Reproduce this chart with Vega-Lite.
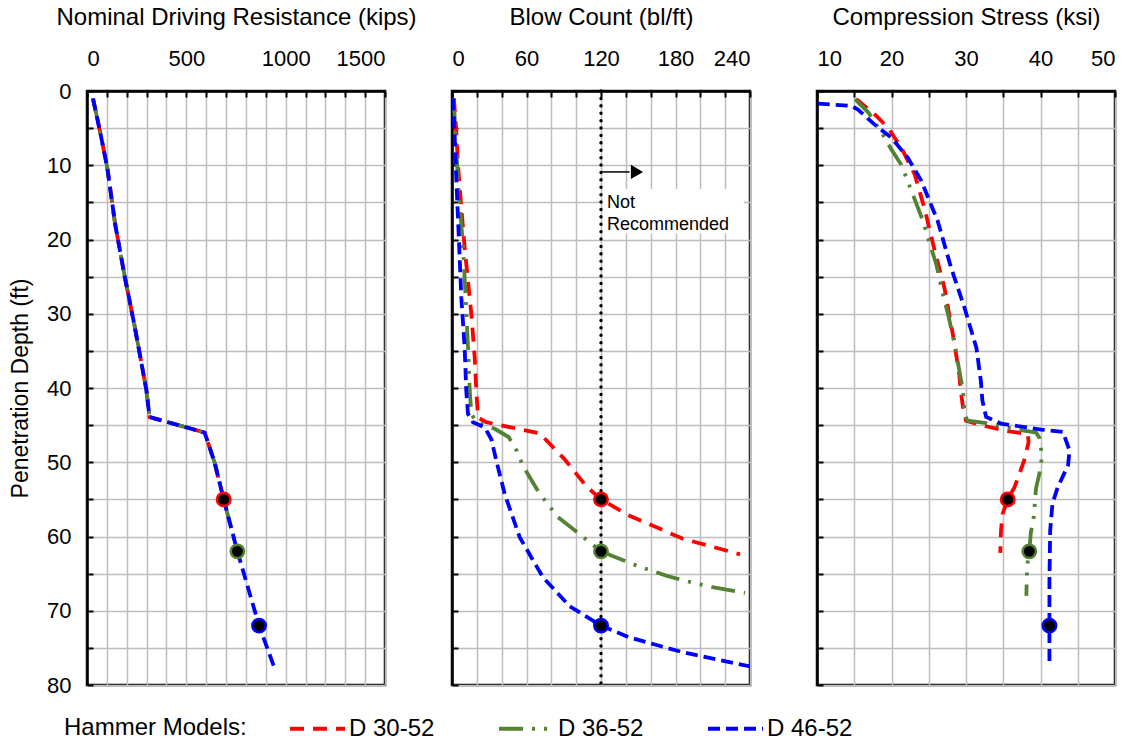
{
  "$schema": "https://vega.github.io/schema/vega-lite/v6.json",
  "background": "white",
  "padding": {"left": 8, "top": 3, "right": 5, "bottom": 5},
  "bounds": "flush",
  "spacing": 67,
  "datasets": {
    "lines": [
      {"p":1,"h":"D 30-52","d":1,"v":30},{"p":1,"h":"D 30-52","d":5.25,"v":64},{"p":1,"h":"D 30-52","d":10.3,"v":102},{"p":1,"h":"D 30-52","d":18,"v":142},{"p":1,"h":"D 30-52","d":25,"v":190},{"p":1,"h":"D 30-52","d":31.7,"v":240},{"p":1,"h":"D 30-52","d":40.3,"v":299},{"p":1,"h":"D 30-52","d":43.9,"v":315},{"p":1,"h":"D 30-52","d":46,"v":592},{"p":1,"h":"D 30-52","d":50,"v":642},{"p":1,"h":"D 30-52","d":55,"v":688},
      {"p":1,"h":"D 36-52","d":1,"v":30},{"p":1,"h":"D 36-52","d":5.25,"v":64},{"p":1,"h":"D 36-52","d":10.3,"v":102},{"p":1,"h":"D 36-52","d":18,"v":142},{"p":1,"h":"D 36-52","d":25,"v":190},{"p":1,"h":"D 36-52","d":31.7,"v":240},{"p":1,"h":"D 36-52","d":40.3,"v":299},{"p":1,"h":"D 36-52","d":43.9,"v":315},{"p":1,"h":"D 36-52","d":46,"v":592},{"p":1,"h":"D 36-52","d":50,"v":642},{"p":1,"h":"D 36-52","d":55,"v":688},{"p":1,"h":"D 36-52","d":62,"v":757},
      {"p":1,"h":"D 46-52","d":1,"v":30},{"p":1,"h":"D 46-52","d":5.25,"v":64},{"p":1,"h":"D 46-52","d":10.3,"v":102},{"p":1,"h":"D 46-52","d":18,"v":142},{"p":1,"h":"D 46-52","d":25,"v":190},{"p":1,"h":"D 46-52","d":31.7,"v":240},{"p":1,"h":"D 46-52","d":40.3,"v":299},{"p":1,"h":"D 46-52","d":43.9,"v":315},{"p":1,"h":"D 46-52","d":46,"v":592},{"p":1,"h":"D 46-52","d":50,"v":642},{"p":1,"h":"D 46-52","d":55,"v":688},{"p":1,"h":"D 46-52","d":62,"v":757},{"p":1,"h":"D 46-52","d":72,"v":866},{"p":1,"h":"D 46-52","d":77.5,"v":941},

      {"p":2,"h":"D 30-52","d":1,"v":1.5},{"p":2,"h":"D 30-52","d":5.4,"v":3.5},{"p":2,"h":"D 30-52","d":9.9,"v":4.8},{"p":2,"h":"D 30-52","d":15.7,"v":7.5},{"p":2,"h":"D 30-52","d":21.1,"v":10.2},{"p":2,"h":"D 30-52","d":25.6,"v":12.9},{"p":2,"h":"D 30-52","d":30.1,"v":15.6},{"p":2,"h":"D 30-52","d":35.9,"v":18.3},{"p":2,"h":"D 30-52","d":40.4,"v":19.6},{"p":2,"h":"D 30-52","d":44,"v":21},{"p":2,"h":"D 30-52","d":44.6,"v":27.6},{"p":2,"h":"D 30-52","d":45.5,"v":53},{"p":2,"h":"D 30-52","d":46.1,"v":70.6},{"p":2,"h":"D 30-52","d":49.6,"v":90.7},{"p":2,"h":"D 30-52","d":53.2,"v":108},{"p":2,"h":"D 30-52","d":55,"v":120},{"p":2,"h":"D 30-52","d":57.2,"v":143},{"p":2,"h":"D 30-52","d":60.3,"v":186},{"p":2,"h":"D 30-52","d":62.4,"v":232},
      {"p":2,"h":"D 36-52","d":1,"v":1},{"p":2,"h":"D 36-52","d":3.1,"v":2},{"p":2,"h":"D 36-52","d":12.1,"v":4.8},{"p":2,"h":"D 36-52","d":21.1,"v":8.9},{"p":2,"h":"D 36-52","d":27.8,"v":11},{"p":2,"h":"D 36-52","d":34.6,"v":12.9},{"p":2,"h":"D 36-52","d":40.4,"v":14.3},{"p":2,"h":"D 36-52","d":43.5,"v":15.6},{"p":2,"h":"D 36-52","d":44.6,"v":19.6},{"p":2,"h":"D 36-52","d":45.5,"v":34.4},{"p":2,"h":"D 36-52","d":46.6,"v":45.6},{"p":2,"h":"D 36-52","d":48.5,"v":52.3},{"p":2,"h":"D 36-52","d":50.5,"v":57.2},{"p":2,"h":"D 36-52","d":53.9,"v":69.3},{"p":2,"h":"D 36-52","d":55.7,"v":77.4},{"p":2,"h":"D 36-52","d":57.4,"v":85.4},{"p":2,"h":"D 36-52","d":58.8,"v":96},{"p":2,"h":"D 36-52","d":61.3,"v":114.9},{"p":2,"h":"D 36-52","d":62,"v":120},{"p":2,"h":"D 36-52","d":63.2,"v":137.9},{"p":2,"h":"D 36-52","d":64,"v":150},{"p":2,"h":"D 36-52","d":65.3,"v":173},{"p":2,"h":"D 36-52","d":65.9,"v":186},{"p":2,"h":"D 36-52","d":66.4,"v":198.6},{"p":2,"h":"D 36-52","d":66.9,"v":212},{"p":2,"h":"D 36-52","d":67.6,"v":236},
      {"p":2,"h":"D 46-52","d":1,"v":1},{"p":2,"h":"D 46-52","d":5.3,"v":2},{"p":2,"h":"D 46-52","d":12,"v":3.5},{"p":2,"h":"D 46-52","d":20.1,"v":5.6},{"p":2,"h":"D 46-52","d":27.8,"v":7.5},{"p":2,"h":"D 46-52","d":34.6,"v":10.2},{"p":2,"h":"D 46-52","d":40.4,"v":11.5},{"p":2,"h":"D 46-52","d":43.5,"v":12.9},{"p":2,"h":"D 46-52","d":44.6,"v":16.9},{"p":2,"h":"D 46-52","d":45.3,"v":26.3},{"p":2,"h":"D 46-52","d":46.9,"v":31.7},{"p":2,"h":"D 46-52","d":49.8,"v":35.7},{"p":2,"h":"D 46-52","d":54.3,"v":42.5},{"p":2,"h":"D 46-52","d":60.1,"v":54.5},{"p":2,"h":"D 46-52","d":65.5,"v":73.3},{"p":2,"h":"D 46-52","d":69.4,"v":94.8},{"p":2,"h":"D 46-52","d":72,"v":120},{"p":2,"h":"D 46-52","d":73.6,"v":143},{"p":2,"h":"D 46-52","d":75.6,"v":186},{"p":2,"h":"D 46-52","d":77.5,"v":240},

      {"p":3,"h":"D 30-52","d":1.1,"v":15.3},{"p":3,"h":"D 30-52","d":3.1,"v":17.7},{"p":3,"h":"D 30-52","d":4.9,"v":19.5},{"p":3,"h":"D 30-52","d":7.6,"v":21.3},{"p":3,"h":"D 30-52","d":11.2,"v":23.1},{"p":3,"h":"D 30-52","d":15.7,"v":24.4},{"p":3,"h":"D 30-52","d":21.5,"v":25.8},{"p":3,"h":"D 30-52","d":26.5,"v":27.1},{"p":3,"h":"D 30-52","d":33.7,"v":28.4},{"p":3,"h":"D 30-52","d":38.2,"v":29.1},{"p":3,"h":"D 30-52","d":40.4,"v":29.3},{"p":3,"h":"D 30-52","d":42.6,"v":29.6},{"p":3,"h":"D 30-52","d":44.4,"v":30},{"p":3,"h":"D 30-52","d":45,"v":32},{"p":3,"h":"D 30-52","d":45.8,"v":35.6},{"p":3,"h":"D 30-52","d":46.2,"v":38.3},{"p":3,"h":"D 30-52","d":47.3,"v":38.4},{"p":3,"h":"D 30-52","d":49.8,"v":37.8},{"p":3,"h":"D 30-52","d":53.4,"v":36.5},{"p":3,"h":"D 30-52","d":55,"v":35.6},{"p":3,"h":"D 30-52","d":57,"v":34.9},{"p":3,"h":"D 30-52","d":59.2,"v":34.7},{"p":3,"h":"D 30-52","d":62.2,"v":34.6},
      {"p":3,"h":"D 36-52","d":1.1,"v":15.1},{"p":3,"h":"D 36-52","d":2.9,"v":16.9},{"p":3,"h":"D 36-52","d":6,"v":18.9},{"p":3,"h":"D 36-52","d":7.9,"v":20},{"p":3,"h":"D 36-52","d":9.9,"v":21.3},{"p":3,"h":"D 36-52","d":13.5,"v":22.7},{"p":3,"h":"D 36-52","d":17.7,"v":24.3},{"p":3,"h":"D 36-52","d":19.8,"v":24.9},{"p":3,"h":"D 36-52","d":23.3,"v":26},{"p":3,"h":"D 36-52","d":27.8,"v":27},{"p":3,"h":"D 36-52","d":30.1,"v":27.6},{"p":3,"h":"D 36-52","d":33.7,"v":28.4},{"p":3,"h":"D 36-52","d":38.2,"v":29.2},{"p":3,"h":"D 36-52","d":40.4,"v":29.6},{"p":3,"h":"D 36-52","d":43.5,"v":29.8},{"p":3,"h":"D 36-52","d":44.4,"v":30.2},{"p":3,"h":"D 36-52","d":44.7,"v":32.5},{"p":3,"h":"D 36-52","d":45.6,"v":36.9},{"p":3,"h":"D 36-52","d":46,"v":39.4},{"p":3,"h":"D 36-52","d":46.8,"v":39.9},{"p":3,"h":"D 36-52","d":49.2,"v":40.2},{"p":3,"h":"D 36-52","d":51.3,"v":39.9},{"p":3,"h":"D 36-52","d":53.5,"v":39.4},{"p":3,"h":"D 36-52","d":57.3,"v":39.1},{"p":3,"h":"D 36-52","d":59.5,"v":38.7},{"p":3,"h":"D 36-52","d":62,"v":38.5},{"p":3,"h":"D 36-52","d":64,"v":38.2},{"p":3,"h":"D 36-52","d":68,"v":38.1},
      {"p":3,"h":"D 46-52","d":1.7,"v":10.1},{"p":3,"h":"D 46-52","d":2,"v":14.6},{"p":3,"h":"D 46-52","d":2.5,"v":15.5},{"p":3,"h":"D 46-52","d":4.5,"v":17.7},{"p":3,"h":"D 46-52","d":6.3,"v":20},{"p":3,"h":"D 46-52","d":9,"v":22.2},{"p":3,"h":"D 46-52","d":12.1,"v":24},{"p":3,"h":"D 46-52","d":17.5,"v":26.2},{"p":3,"h":"D 46-52","d":23.8,"v":28},{"p":3,"h":"D 46-52","d":29.2,"v":29.8},{"p":3,"h":"D 46-52","d":34.6,"v":31.4},{"p":3,"h":"D 46-52","d":39.1,"v":32},{"p":3,"h":"D 46-52","d":41.7,"v":32.2},{"p":3,"h":"D 46-52","d":43.9,"v":32.7},{"p":3,"h":"D 46-52","d":44.8,"v":34.7},{"p":3,"h":"D 46-52","d":45.6,"v":40.1},{"p":3,"h":"D 46-52","d":45.9,"v":43},{"p":3,"h":"D 46-52","d":48.4,"v":43.9},{"p":3,"h":"D 46-52","d":50.4,"v":43.7},{"p":3,"h":"D 46-52","d":53.4,"v":42.3},{"p":3,"h":"D 46-52","d":55.6,"v":41.6},{"p":3,"h":"D 46-52","d":59.2,"v":41.3},{"p":3,"h":"D 46-52","d":65.9,"v":41.2},{"p":3,"h":"D 46-52","d":72,"v":41.2},{"p":3,"h":"D 46-52","d":77.3,"v":41.2}
    ],
    "pts": [
      {"p":1,"h":"D 30-52","d":55,"v":688},{"p":1,"h":"D 36-52","d":62,"v":757},{"p":1,"h":"D 46-52","d":72,"v":866},
      {"p":2,"h":"D 30-52","d":55,"v":120},{"p":2,"h":"D 36-52","d":62,"v":120},{"p":2,"h":"D 46-52","d":72,"v":120},
      {"p":3,"h":"D 30-52","d":55,"v":35.6},{"p":3,"h":"D 36-52","d":62,"v":38.5},{"p":3,"h":"D 46-52","d":72,"v":41.2}
    ],
    "box": [{"v":121.6,"v2":235,"d":13.2,"d2":19.2}],
    "limit": [{"v":120}],
    "arrow": [{"v":120,"v2":143,"d":10.9}],
    "head": [{"v":149,"d":10.9}],
    "note": [{"t":"Not","v":124.8,"d":15.8},{"t":"Recommended","v":124.8,"d":18.7}]
  },
  "hconcat": [
    {
      "width": 298, "height": 594,
      "layer": [
        {
          "data": {"name": "lines"},
          "transform": [{"filter": "datum.p == 1"}],
          "mark": {"type": "line", "strokeCap": "butt", "clip": true},
          "encoding": {
            "x": {"field": "v", "type": "quantitative", "scale": {"domain": [0, 1500], "nice": false, "zero": false},
                  "axis": {"orient": "top", "title": "Nominal Driving Resistance (kips)", "tickCount": 40, "format": "d",
                           "values": [0,100,200,300,400,500,600,700,800,900,1000,1100,1200,1300,1400,1500],
                           "labelExpr": "datum.value % 500 === 0 ? datum.label : ''"}},
            "y": {"field": "d", "type": "quantitative", "scale": {"domain": [0, 80], "reverse": true, "nice": false, "zero": false},
                  "axis": {"title": "Penetration Depth (ft)", "tickCount": 40, "format": "d",
                           "values": [0,5,10,15,20,25,30,35,40,45,50,55,60,65,70,75,80],
                           "labelExpr": "datum.value % 10 === 0 ? datum.label : ''"}},
            "order": {"field": "d", "type": "quantitative"},
            "color": {"field": "h", "type": "nominal", "title": "Hammer Models:", "scale": {"domain": ["D 30-52","D 36-52","D 46-52"], "range": ["#ff0000","#548235","#0000ff"]},
                      "legend": {"orient": "none", "legendX": -23, "legendY": 608, "direction": "horizontal", "titleOrient": "left", "titleAnchor": "middle", "titleBaseline": "line-top", "titleLineHeight": 16}},
            "strokeDash": {"field": "h", "type": "nominal", "title": "Hammer Models:", "scale": {"domain": ["D 30-52","D 36-52","D 46-52"], "range": [[14,9],[24,9,3,9,3,9],[12,6]]},
                      "legend": {"orient": "none", "legendX": -23, "legendY": 608, "direction": "horizontal", "titleOrient": "left", "titleAnchor": "middle", "titleBaseline": "line-top", "titleLineHeight": 16}},
            "strokeWidth": {"field": "h", "type": "nominal", "scale": {"domain": ["D 30-52","D 36-52","D 46-52"], "range": [3.8,3.8,5]}, "legend": null}
          }
        },
        {
          "data": {"name": "pts"},
          "transform": [{"filter": "datum.p == 1"}],
          "mark": {"type": "point", "filled": true, "fill": "black", "size": 180, "strokeWidth": 2.5, "opacity": 1},
          "encoding": {
            "x": {"field": "v", "type": "quantitative"},
            "y": {"field": "d", "type": "quantitative"},
            "stroke": {"field": "h", "type": "nominal", "scale": {"domain": ["D 30-52","D 36-52","D 46-52"], "range": ["#ff0000","#548235","#0000ff"]}, "legend": null}
          }
        }
      ]
    },
    {
      "width": 298, "height": 594,
      "layer": [
        {
          "data": {"name": "box"},
          "mark": {"type": "rect", "fill": "white"},
          "encoding": {
            "x": {"field": "v", "type": "quantitative", "scale": {"domain": [0, 240], "nice": false, "zero": false},
                  "axis": {"orient": "top", "title": "Blow Count (bl/ft)", "tickCount": 40, "format": "d",
                           "values": [0,20,40,60,80,100,120,140,160,180,200,220,240],
                           "labelExpr": "datum.value % 60 === 0 ? datum.label : ''"}},
            "x2": {"field": "v2"},
            "y": {"field": "d", "type": "quantitative", "scale": {"domain": [0, 80], "reverse": true, "nice": false, "zero": false},
                  "axis": {"title": null, "labels": false, "tickCount": 40,
                           "values": [0,5,10,15,20,25,30,35,40,45,50,55,60,65,70,75,80]}},
            "y2": {"field": "d2"}
          }
        },
        {
          "data": {"name": "limit"},
          "mark": {"type": "rule", "color": "black", "strokeWidth": 3.4, "strokeCap": "round", "strokeDash": [0.1, 7.3]},
          "encoding": {"x": {"field": "v", "type": "quantitative"}}
        },
        {
          "data": {"name": "arrow"},
          "mark": {"type": "rule", "color": "black", "strokeWidth": 1.5},
          "encoding": {"x": {"field": "v", "type": "quantitative"}, "x2": {"field": "v2"}, "y": {"field": "d", "type": "quantitative"}}
        },
        {
          "data": {"name": "head"},
          "mark": {"type": "point", "shape": "triangle-right", "filled": true, "color": "black", "size": 200, "opacity": 1},
          "encoding": {"x": {"field": "v", "type": "quantitative"}, "y": {"field": "d", "type": "quantitative"}}
        },
        {
          "data": {"name": "note"},
          "mark": {"type": "text", "align": "left", "baseline": "alphabetic", "fontSize": 18, "font": "Liberation Sans", "color": "black"},
          "encoding": {"x": {"field": "v", "type": "quantitative"}, "y": {"field": "d", "type": "quantitative"}, "text": {"field": "t"}}
        },
        {
          "data": {"name": "lines"},
          "transform": [{"filter": "datum.p == 2"}],
          "mark": {"type": "line", "strokeCap": "butt", "clip": true},
          "encoding": {
            "x": {"field": "v", "type": "quantitative"},
            "y": {"field": "d", "type": "quantitative"},
            "order": {"field": "d", "type": "quantitative"},
            "color": {"field": "h", "type": "nominal", "title": "Hammer Models:"},
            "strokeDash": {"field": "h", "type": "nominal", "title": "Hammer Models:"},
            "strokeWidth": {"field": "h", "type": "nominal", "legend": null}
          }
        },
        {
          "data": {"name": "pts"},
          "transform": [{"filter": "datum.p == 2"}],
          "mark": {"type": "point", "filled": true, "fill": "black", "size": 180, "strokeWidth": 2.5, "opacity": 1},
          "encoding": {
            "x": {"field": "v", "type": "quantitative"},
            "y": {"field": "d", "type": "quantitative"},
            "stroke": {"field": "h", "type": "nominal", "legend": null}
          }
        }
      ]
    },
    {
      "width": 298, "height": 594,
      "layer": [
        {
          "data": {"name": "lines"},
          "transform": [{"filter": "datum.p == 3"}],
          "mark": {"type": "line", "strokeCap": "butt", "clip": true},
          "encoding": {
            "x": {"field": "v", "type": "quantitative", "scale": {"domain": [10, 50], "nice": false, "zero": false},
                  "axis": {"orient": "top", "title": "Compression Stress (ksi)", "tickCount": 40, "format": "d",
                           "values": [10,15,20,25,30,35,40,45,50],
                           "labelExpr": "datum.value % 10 === 0 ? datum.label : ''"}},
            "y": {"field": "d", "type": "quantitative", "scale": {"domain": [0, 80], "reverse": true, "nice": false, "zero": false},
                  "axis": {"title": null, "labels": false, "tickCount": 40,
                           "values": [0,5,10,15,20,25,30,35,40,45,50,55,60,65,70,75,80]}},
            "order": {"field": "d", "type": "quantitative"},
            "color": {"field": "h", "type": "nominal", "title": "Hammer Models:"},
            "strokeDash": {"field": "h", "type": "nominal", "title": "Hammer Models:"},
            "strokeWidth": {"field": "h", "type": "nominal", "legend": null}
          }
        },
        {
          "data": {"name": "pts"},
          "transform": [{"filter": "datum.p == 3"}],
          "mark": {"type": "point", "filled": true, "fill": "black", "size": 180, "strokeWidth": 2.5, "opacity": 1},
          "encoding": {
            "x": {"field": "v", "type": "quantitative"},
            "y": {"field": "d", "type": "quantitative"},
            "stroke": {"field": "h", "type": "nominal", "legend": null}
          }
        }
      ]
    }
  ],
  "config": {
    "font": "Liberation Sans",
    "view": {"stroke": "black", "strokeWidth": 2.5},
    "axis": {
      "domain": true, "domainColor": "black", "domainWidth": 2.5,
      "grid": true, "gridColor": "#bdbdbd", "gridWidth": 1.5,
      "ticks": true, "tickColor": "black", "tickWidth": 2, "tickSize": -6,
      "labelFont": "Liberation Sans", "labelFontSize": 22, "labelColor": "black", "labelPadding": 27,
      "titleFont": "Liberation Sans", "titleFontSize": 24, "titleColor": "black", "titleFontWeight": "normal", "titlePadding": 18,
      "labelOverlap": false
    },
    "axisY": {"labelPadding": 22, "titleFontSize": 23, "titlePadding": 14},
    "legend": {
      "symbolType": "stroke", "symbolSize": 3025, "symbolStrokeWidth": 3.8,
      "labelFont": "Liberation Sans", "labelFontSize": 24, "labelColor": "black", "labelOffset": 2, "labelLimit": 0,
      "titleFont": "Liberation Sans", "titleFontSize": 24, "titleColor": "black", "titleFontWeight": "normal", "titlePadding": 41, "titleLimit": 0,
      "columnPadding": 56
    }
  }
}
